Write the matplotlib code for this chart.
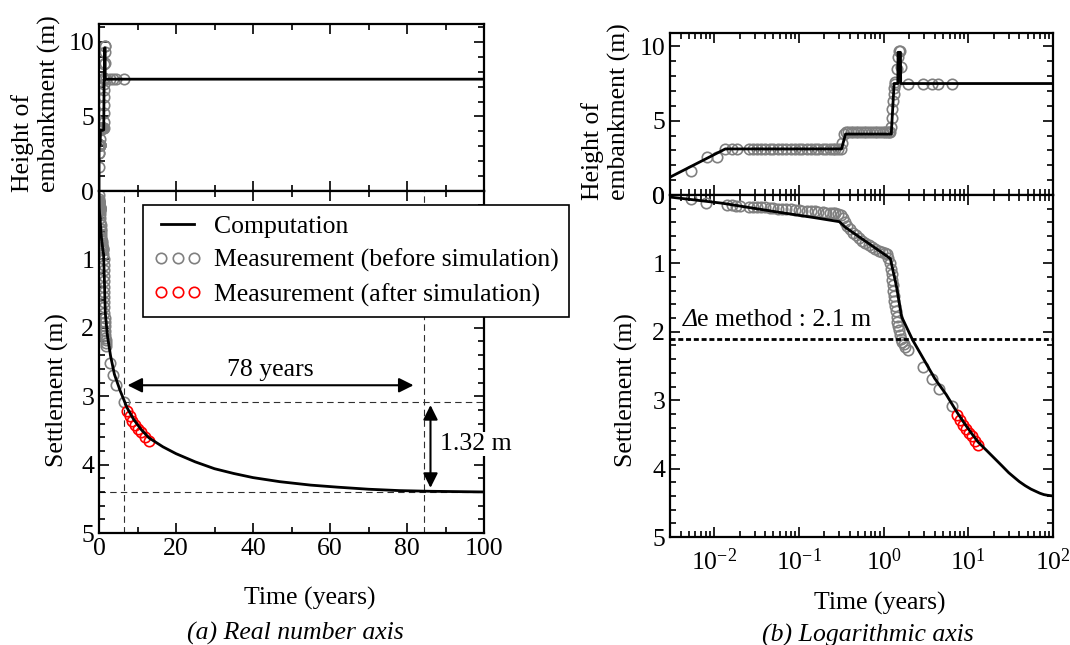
import numpy as np
import matplotlib
matplotlib.use("Agg")
import matplotlib.pyplot as plt
from matplotlib.ticker import MultipleLocator, LogLocator, NullFormatter, FixedLocator, FixedFormatter
from matplotlib.lines import Line2D

plt.rcParams['font.family'] = ['Liberation Serif', 'DejaVu Serif']
plt.rcParams['mathtext.fontset'] = 'custom'
plt.rcParams['mathtext.rm'] = 'Liberation Serif'
plt.rcParams['mathtext.it'] = 'Liberation Serif:italic'
plt.rcParams['font.size'] = 18.5

# ---------------- data ----------------
# computed settlement (m) vs time (years)
t_comp = [0.0, 0.003, 0.0124, 0.05, 0.15, 0.30, 0.36, 0.6, 1.0, 1.2, 1.42, 1.63, 2.2, 3.0, 4.0,
          5.5, 7.3, 9, 11, 13, 16.6, 20, 25, 30, 35, 40, 47, 55, 62, 70, 78, 86, 100]
s_comp = [0.0, 0.03, 0.12, 0.24, 0.33, 0.39, 0.48, 0.67, 0.86, 0.93, 1.34, 1.78, 2.12, 2.41, 2.68,
          2.92, 3.17, 3.34, 3.49, 3.61, 3.74, 3.84, 3.96, 4.06, 4.13, 4.19, 4.25, 4.30, 4.33,
          4.36, 4.38, 4.39, 4.40]

# computed embankment height (m)
t_hcomp = [0.0, 0.003, 0.0135, 0.318, 0.355, 1.23, 1.27, 1.33, 1.47, 1.48, 1.58, 1.59, 100]
h_hcomp = [0.0, 1.2, 3.1, 3.1, 4.1, 4.1, 5.5, 7.5, 7.5, 9.6, 9.6, 7.5, 7.5]

# measured embankment height
t_hmeas = [0.0053, 0.0081, 0.0108, 0.0135, 0.016, 0.0188, 0.026, 0.029, 0.032, 0.036, 0.040,
           0.045, 0.050, 0.056, 0.063, 0.071, 0.080, 0.090, 0.10, 0.11, 0.125, 0.14, 0.155,
           0.17, 0.19, 0.21, 0.23, 0.25, 0.27, 0.29, 0.31, 0.325, 0.34, 0.36, 0.38, 0.41,
           0.44, 0.47, 0.50, 0.54, 0.58, 0.62, 0.67, 0.72, 0.78, 0.84, 0.90, 0.97, 1.04,
           1.10, 1.16, 1.20, 1.23, 1.25, 1.27, 1.29, 1.31, 1.33, 1.35, 1.38, 1.42, 1.46,
           1.50, 1.55, 1.60, 1.93, 2.89, 3.7, 4.35, 6.4]
h_hmeas = [1.6, 2.55, 2.55, 3.1, 3.1, 3.1, 3.1, 3.1, 3.1, 3.1, 3.1,
           3.1, 3.1, 3.1, 3.1, 3.1, 3.1, 3.1, 3.1, 3.1, 3.1, 3.1, 3.1,
           3.1, 3.1, 3.1, 3.1, 3.1, 3.1, 3.1, 3.1, 3.5, 4.1, 4.25, 4.25, 4.25,
           4.25, 4.25, 4.25, 4.25, 4.25, 4.25, 4.25, 4.25, 4.25, 4.25, 4.25, 4.25, 4.25,
           4.25, 4.25, 4.25, 4.6, 5.2, 5.8, 6.3, 6.8, 7.2, 7.5, 7.6, 8.5, 9.3,
           9.7, 9.7, 8.6, 7.5, 7.5, 7.5, 7.5, 7.5]

# measured settlement (before simulation)
t_smeas = [0.0053, 0.008, 0.014, 0.016, 0.018, 0.020, 0.026, 0.029, 0.032, 0.036, 0.040, 0.045,
           0.050, 0.056, 0.063, 0.071, 0.080, 0.090, 0.10, 0.11, 0.125, 0.14, 0.155, 0.17,
           0.19, 0.21, 0.23, 0.25, 0.27, 0.29, 0.31, 0.33, 0.35, 0.37, 0.40, 0.43, 0.47,
           0.51, 0.56, 0.61, 0.67, 0.73, 0.80, 0.87, 0.95, 1.03, 1.10, 1.14, 1.18, 1.21,
           1.24, 1.26, 1.28, 1.30, 1.32, 1.34, 1.36, 1.39, 1.42, 1.45, 1.48, 1.52, 1.56,
           1.60, 1.65, 1.72, 1.80, 1.93, 2.9, 3.7, 4.5, 6.4]
s_smeas = [0.06, 0.12, 0.15, 0.15, 0.16, 0.16, 0.17, 0.17, 0.18, 0.18, 0.18, 0.19,
           0.19, 0.20, 0.20, 0.21, 0.21, 0.22, 0.22, 0.23, 0.23, 0.24, 0.24, 0.25,
           0.25, 0.26, 0.26, 0.27, 0.27, 0.28, 0.29, 0.33, 0.40, 0.45, 0.50, 0.55, 0.59,
           0.63, 0.67, 0.70, 0.73, 0.76, 0.79, 0.82, 0.84, 0.85, 0.86, 0.92, 1.00, 1.08,
           1.16, 1.24, 1.32, 1.40, 1.48, 1.55, 1.62, 1.70, 1.78, 1.85, 1.92, 1.98, 2.04,
           2.10, 2.15, 2.18, 2.22, 2.27, 2.51, 2.69, 2.84, 3.08]

# measured settlement (after simulation)
t_after = [7.3, 8.0, 8.7, 9.4, 10.2, 11.0, 12.0, 13.0]
s_after = [3.22, 3.29, 3.36, 3.42, 3.48, 3.53, 3.59, 3.65]

# annotations
t_start, t_end = 6.5, 84.5
s_start, s_end = 3.08, 4.40
delta_e_settlement = 2.1

legend_labels = ["Computation", "Measurement (before simulation)", "Measurement (after simulation)"]

# ---------------- figure ----------------
W, H = 1070, 645
fig = plt.figure(figsize=(W / 100, H / 100), dpi=100)


def box(x0, y0, x1, y1):
    return [x0 / W, 1 - y1 / H, (x1 - x0) / W, (y1 - y0) / H]


axLT = fig.add_axes(box(99, 24, 484, 191))
axLB = fig.add_axes(box(99, 191, 484, 533))
axRT = fig.add_axes(box(670, 33, 1053, 195))
axRB = fig.add_axes(box(670, 195, 1053, 537))

GRAY = '#808080'
mk = dict(marker='o', ls='none', mfc='none', ms=7.5, mew=1.2)

for ax in (axLT, axLB, axRT, axRB):
    for sp in ax.spines.values():
        sp.set_linewidth(1.6)
    ax.tick_params(which='both', direction='in', top=True, right=True, width=1.2, labelsize=18.5)
    ax.tick_params(which='major', length=7)
    ax.tick_params(which='minor', length=4)

# ---- left (linear) ----
axLT.plot(t_hmeas, h_hmeas, color=GRAY, mec=GRAY, **mk)
axLT.plot(t_hcomp, h_hcomp, color='k', lw=2)
axLT.set_xlim(0, 100)
axLT.set_ylim(0, 11.2)
axLT.xaxis.set_major_locator(MultipleLocator(20))
axLT.xaxis.set_minor_locator(MultipleLocator(10))
axLT.yaxis.set_major_locator(FixedLocator([0, 5, 10]))
axLT.yaxis.set_major_formatter(FixedFormatter(['', '5', '10']))
axLT.yaxis.set_minor_locator(MultipleLocator(1))
axLT.tick_params(labelbottom=False)

axLB.plot(t_smeas, s_smeas, color=GRAY, mec=GRAY, **mk)
axLB.plot(t_after, s_after, color='red', mec='red', **mk)
axLB.plot(t_comp, s_comp, color='k', lw=2)
axLB.set_xlim(0, 100)
axLB.set_ylim(5, 0)
axLB.xaxis.set_major_locator(MultipleLocator(20))
axLB.xaxis.set_minor_locator(MultipleLocator(10))
axLB.yaxis.set_major_locator(MultipleLocator(1))
axLB.yaxis.set_minor_locator(MultipleLocator(0.2))

dkw = dict(color='#303030', lw=0.8, dashes=(5.8, 3.8), zorder=1)
axLB.axvline(t_start, **dkw)
axLB.axvline(t_end, **dkw)
axLB.plot([t_start, 100], [s_start, s_start], **dkw)
axLB.plot([0, 100], [s_end, s_end], **dkw)

axLB.annotate('', xy=(t_start + 0.9, 2.84), xytext=(t_end - 2.8, 2.84),
              arrowprops=dict(arrowstyle='<|-|>', color='k', lw=1.5, mutation_scale=22,
                              shrinkA=0, shrinkB=0))
axLB.text((t_start + t_end) / 2 - 1, 2.62, f"{t_end - t_start:.0f} years", ha='center', va='center')
axLB.annotate('', xy=(86.1, s_start + 0.05), xytext=(86.1, s_end - 0.06),
              arrowprops=dict(arrowstyle='<|-|>', color='k', lw=1.5, mutation_scale=22,
                              shrinkA=0, shrinkB=0))
axLB.text(88.6, 3.70, f"{s_end - s_start:.2f} m", ha='left', va='center', clip_on=False,
          zorder=10, bbox=dict(facecolor='white', edgecolor='none', pad=1))

handles = [Line2D([], [], color='k', lw=2),
           Line2D([], [], color=GRAY, mec=GRAY, **mk),
           Line2D([], [], color='red', mec='red', **mk)]
leg = axLB.legend(handles, legend_labels, loc='upper left', numpoints=3,
                  bbox_to_anchor=(143 / W, 1 - 205 / H), bbox_transform=fig.transFigure,
                  borderaxespad=0, fancybox=False, framealpha=1, edgecolor='k',
                  handlelength=1.9, handletextpad=0.45, labelspacing=0.42, borderpad=0.4,
                  fontsize=18.5)
leg.get_frame().set_linewidth(1.2)
leg.set_zorder(20)

# ---- right (log) ----
t_hc = np.array(t_hcomp)
t_sc = np.array(t_comp)
axRT.plot(t_hmeas, h_hmeas, color=GRAY, mec=GRAY, **mk)
axRT.plot(t_hc[t_hc > 0], np.array(h_hcomp)[t_hc > 0], color='k', lw=2)
axRT.set_xscale('log')
axRT.set_xlim(0.003, 100)
axRT.set_ylim(0, 10.9)
axRT.yaxis.set_major_locator(MultipleLocator(5))
axRT.yaxis.set_minor_locator(MultipleLocator(1))
axRT.xaxis.set_major_locator(LogLocator(base=10, numticks=20))
axRT.xaxis.set_minor_locator(LogLocator(base=10, subs=np.arange(2, 10), numticks=20))
axRT.xaxis.set_minor_formatter(NullFormatter())
axRT.tick_params(labelbottom=False)

axRB.plot(t_smeas, s_smeas, color=GRAY, mec=GRAY, **mk)
axRB.plot(t_after, s_after, color='red', mec='red', **mk)
axRB.plot(t_sc[t_sc > 0], np.array(s_comp)[t_sc > 0], color='k', lw=2)
axRB.set_xscale('log')
axRB.set_xlim(0.003, 100)
axRB.set_ylim(5, 0)
axRB.yaxis.set_major_locator(MultipleLocator(1))
axRB.yaxis.set_minor_locator(MultipleLocator(0.2))
axRB.xaxis.set_major_locator(LogLocator(base=10, numticks=20))
axRB.xaxis.set_minor_locator(LogLocator(base=10, subs=np.arange(2, 10), numticks=20))
axRB.xaxis.set_minor_formatter(NullFormatter())
axRB.tick_params(axis='x', pad=8)
axRB.axhline(delta_e_settlement, color='k', lw=2, dashes=(1.8, 1.0))
t_delta = axRB.text(0.0042, 1.99, "\u0394", style='italic', ha='left', va='bottom')
axRB.annotate(f"e method : {delta_e_settlement} m", xy=(1, 0), xycoords=t_delta,
              ha='left', va='bottom')

# ---- labels ----
fig.text(36 / W, 1 - 104 / H, "Height of\nembankment (m)", rotation=90, ha='center', va='center',
         multialignment='left')
fig.text(57 / W, 1 - 390 / H, "Settlement (m)", rotation=90, ha='center', va='center')
fig.text(606 / W, 1 - 112 / H, "Height of\nembankment (m)", rotation=90, ha='center', va='center',
         multialignment='left')
fig.text(626 / W, 1 - 390 / H, "Settlement (m)", rotation=90, ha='center', va='center')
fig.text(310 / W, 1 - 598 / H, "Time (years)", ha='center', va='center')
fig.text(880 / W, 1 - 603 / H, "Time (years)", ha='center', va='center')
fig.text(295 / W, 1 - 633 / H, "(a) Real number axis", ha='center', va='center', style='italic')
fig.text(868 / W, 1 - 635 / H, "(b) Logarithmic axis", ha='center', va='center', style='italic')

fig.savefig("out.png", dpi=100, facecolor='white')
